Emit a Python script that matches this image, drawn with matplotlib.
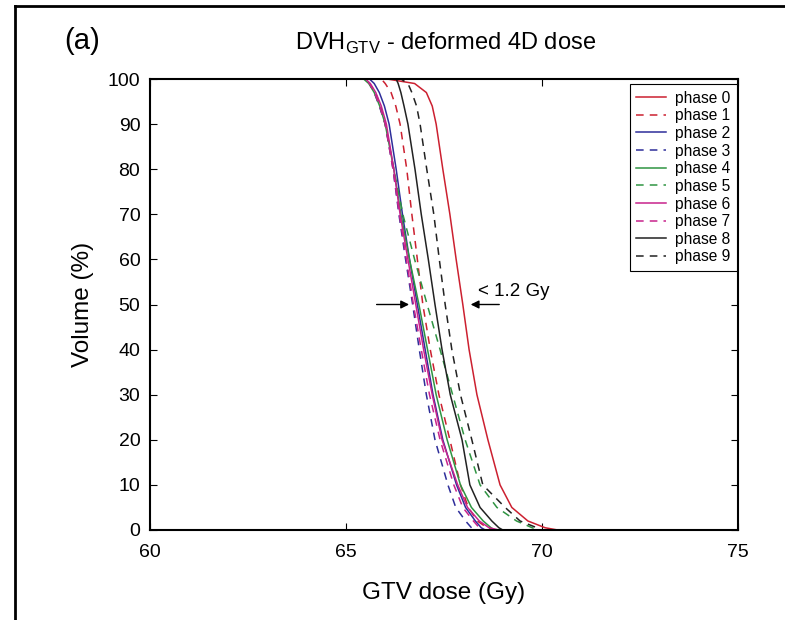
import matplotlib.pyplot as plt
from matplotlib.lines import Line2D

plt.rcParams["font.family"] = ["Liberation Sans", "DejaVu Sans"]

# volume levels (%) shared by all phases
volume = [100, 100, 99, 97, 94, 90, 80, 70, 60, 50, 40, 30, 20, 10, 5, 2, 0.5, 0, 0]

phase_0 = [60, 66.05, 66.75, 67.05, 67.20, 67.30, 67.47, 67.65, 67.81, 67.98, 68.14, 68.34, 68.62, 68.93, 69.23, 69.64, 70.08, 70.40, 75]
phase_1 = [60, 65.90, 66.00, 66.15, 66.27, 66.38, 66.55, 66.68, 66.82, 66.96, 67.15, 67.37, 67.65, 67.92, 68.12, 68.35, 68.60, 68.75, 75]
phase_2 = [60, 65.60, 65.72, 65.85, 65.98, 66.10, 66.28, 66.44, 66.62, 66.82, 67.02, 67.22, 67.47, 67.82, 68.05, 68.30, 68.45, 68.55, 75]
phase_3 = [60, 65.50, 65.60, 65.72, 65.85, 66.00, 66.20, 66.35, 66.52, 66.70, 66.87, 67.05, 67.27, 67.60, 67.80, 68.05, 68.20, 68.25, 75]
phase_4 = [60, 65.45, 65.58, 65.72, 65.86, 66.00, 66.22, 66.40, 66.62, 66.86, 67.08, 67.30, 67.58, 67.92, 68.20, 68.50, 68.70, 68.80, 75]
phase_5 = [60, 65.45, 65.60, 65.75, 65.88, 66.00, 66.22, 66.45, 66.75, 67.07, 67.40, 67.72, 68.04, 68.42, 68.85, 69.35, 69.75, 69.90, 75]
phase_6 = [60, 65.50, 65.62, 65.76, 65.90, 66.03, 66.22, 66.38, 66.58, 66.78, 66.98, 67.20, 67.45, 67.85, 68.10, 68.40, 68.65, 68.90, 75]
phase_7 = [60, 65.50, 65.60, 65.73, 65.86, 66.00, 66.20, 66.36, 66.54, 66.72, 66.92, 67.13, 67.40, 67.75, 67.98, 68.25, 68.40, 68.45, 75]
phase_8 = [60, 66.28, 66.33, 66.40, 66.48, 66.58, 66.76, 66.92, 67.10, 67.27, 67.45, 67.66, 67.96, 68.16, 68.42, 68.72, 68.90, 69.00, 75]
phase_9 = [60, 66.40, 66.58, 66.68, 66.80, 66.89, 67.06, 67.24, 67.38, 67.53, 67.70, 67.92, 68.21, 68.49, 69.06, 69.44, 69.87, 69.98, 75]

phases = [phase_0, phase_1, phase_2, phase_3, phase_4,
          phase_5, phase_6, phase_7, phase_8, phase_9]
labels = [f"phase {i}" for i in range(10)]
colors = ["#cc2030", "#cc2030", "#2e2e9a", "#2e2e9a", "#2f9442",
          "#2f9442", "#c8238c", "#c8238c", "#222222", "#222222"]

fig = plt.figure(figsize=(7.85, 6.2), dpi=100)
ax = fig.add_axes([150 / 785, 1 - 530 / 620, 588 / 785, 451 / 620])

for i, dose in enumerate(phases):
    ls = "-" if i % 2 == 0 else (0, (5, 4))
    ax.plot(dose, volume, color=colors[i], linestyle=ls, linewidth=1.1, label=labels[i])

ax.set_xlim(60, 75)
ax.set_ylim(0, 100)
ax.set_xticks([60, 65, 70, 75])
ax.set_yticks(range(0, 101, 10))
ax.tick_params(direction="in", top=True, right=True, length=5, labelsize=14, pad=7)
ax.tick_params(axis="x", pad=10)
for s in ax.spines.values():
    s.set_linewidth(1.5)

ax.set_xlabel("GTV dose (Gy)", fontsize=17.5, labelpad=15)
ax.set_ylabel("Volume (%)", fontsize=17.5, labelpad=10)

leg = ax.legend(loc="upper right", bbox_to_anchor=(0.998, 0.988), fontsize=11.2,
                handlelength=1.9, labelspacing=0.17, borderpad=0.4, handletextpad=0.6,
                fancybox=False, edgecolor="black", borderaxespad=0, framealpha=1)
leg.get_frame().set_linewidth(0.8)

# arrows marking the spread at 50 %
ax.annotate("", xy=(66.68, 50), xytext=(65.71, 50),
            arrowprops=dict(arrowstyle="-|>", color="black", lw=1, mutation_scale=12))
ax.annotate("", xy=(68.11, 50), xytext=(68.98, 50),
            arrowprops=dict(arrowstyle="-|>", color="black", lw=1, mutation_scale=12))
ax.text(68.38, 52.8, "< 1.2 Gy", fontsize=13.5, va="center", ha="left")

fig.text(446 / 785, 1 - 43 / 620, r"DVH$_{\mathregular{GTV}}$ - deformed 4D dose",
         fontsize=17, ha="center", va="center")
fig.text(64 / 785, 1 - 41 / 620, "(a)", fontsize=21, ha="left", va="center")

# panel frame (partly cropped)
fig.add_artist(Line2D([15 / 785, 15 / 785], [0, 1 - 6 / 620], color="black", lw=2))
fig.add_artist(Line2D([15 / 785, 1], [1 - 6 / 620, 1 - 6 / 620], color="black", lw=2))

fig.savefig("out.png", dpi=100)
